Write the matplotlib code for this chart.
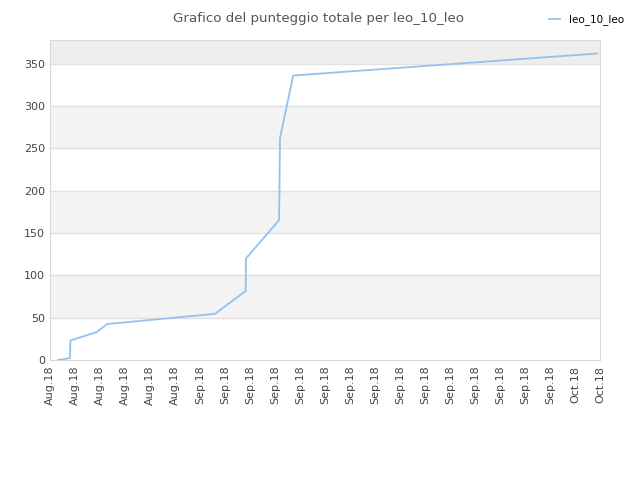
import matplotlib
matplotlib.use("Agg")
import matplotlib.pyplot as plt
import numpy as np

# giorni dall'inizio (20 agosto) e punteggio cumulato
days = [0.64, 1.52, 1.60, 1.64, 3.74, 4.58, 13.2, 15.66, 15.68, 18.32, 18.36, 18.40, 19.46, 43.76]
score = [0, 2, 2, 23, 33, 42.5, 54.5, 81.5, 120, 165, 197, 262, 336, 362]

tick_days = list(range(0, 45, 2))
tick_labels = ["Aug.18"] * 6 + ["Sep.18"] * 15 + ["Oct.18"] * 2

fig = plt.figure(figsize=(6.4, 4.8), dpi=100)
ax = fig.add_axes([0.078, 0.25, 0.8595, 0.6667])

ymax = 378
ax.set_xlim(0, 44)
ax.set_ylim(0, ymax)

# bande alternate
bands = [0, 50, 100, 150, 200, 250, 300, 350, ymax]
for i in range(len(bands) - 1):
    if i % 2 == 1:
        col = "#eeeeee" if bands[i] == 350 else "#f3f3f3"
        ax.axhspan(bands[i], bands[i + 1], color=col, zorder=0, lw=0)
for y in bands[1:-1]:
    ax.axhline(y, color="#e0e0e0", lw=1, zorder=1)

ax.plot(days, score, color="#94c1f0", lw=1.3, label="leo_10_leo", zorder=3)

ax.set_yticks(range(0, 351, 50))
ax.set_xticks(tick_days)
ax.set_xticklabels(tick_labels, rotation=90)
ax.tick_params(axis="both", length=0, labelsize=8, labelcolor="#444444")
ax.tick_params(axis="x", pad=4)
for s in ax.spines.values():
    s.set_color("#d9d9d9")

fig.text(0.497, 0.975, "Grafico del punteggio totale per leo_10_leo",
         ha="center", va="top", fontsize=9.6, color="#555555")
fig.legend(loc="upper right", bbox_to_anchor=(0.99, 0.99), frameon=False,
           fontsize=7.5, handlelength=1.0, handletextpad=0.9)

fig.savefig("out.png", dpi=100)
